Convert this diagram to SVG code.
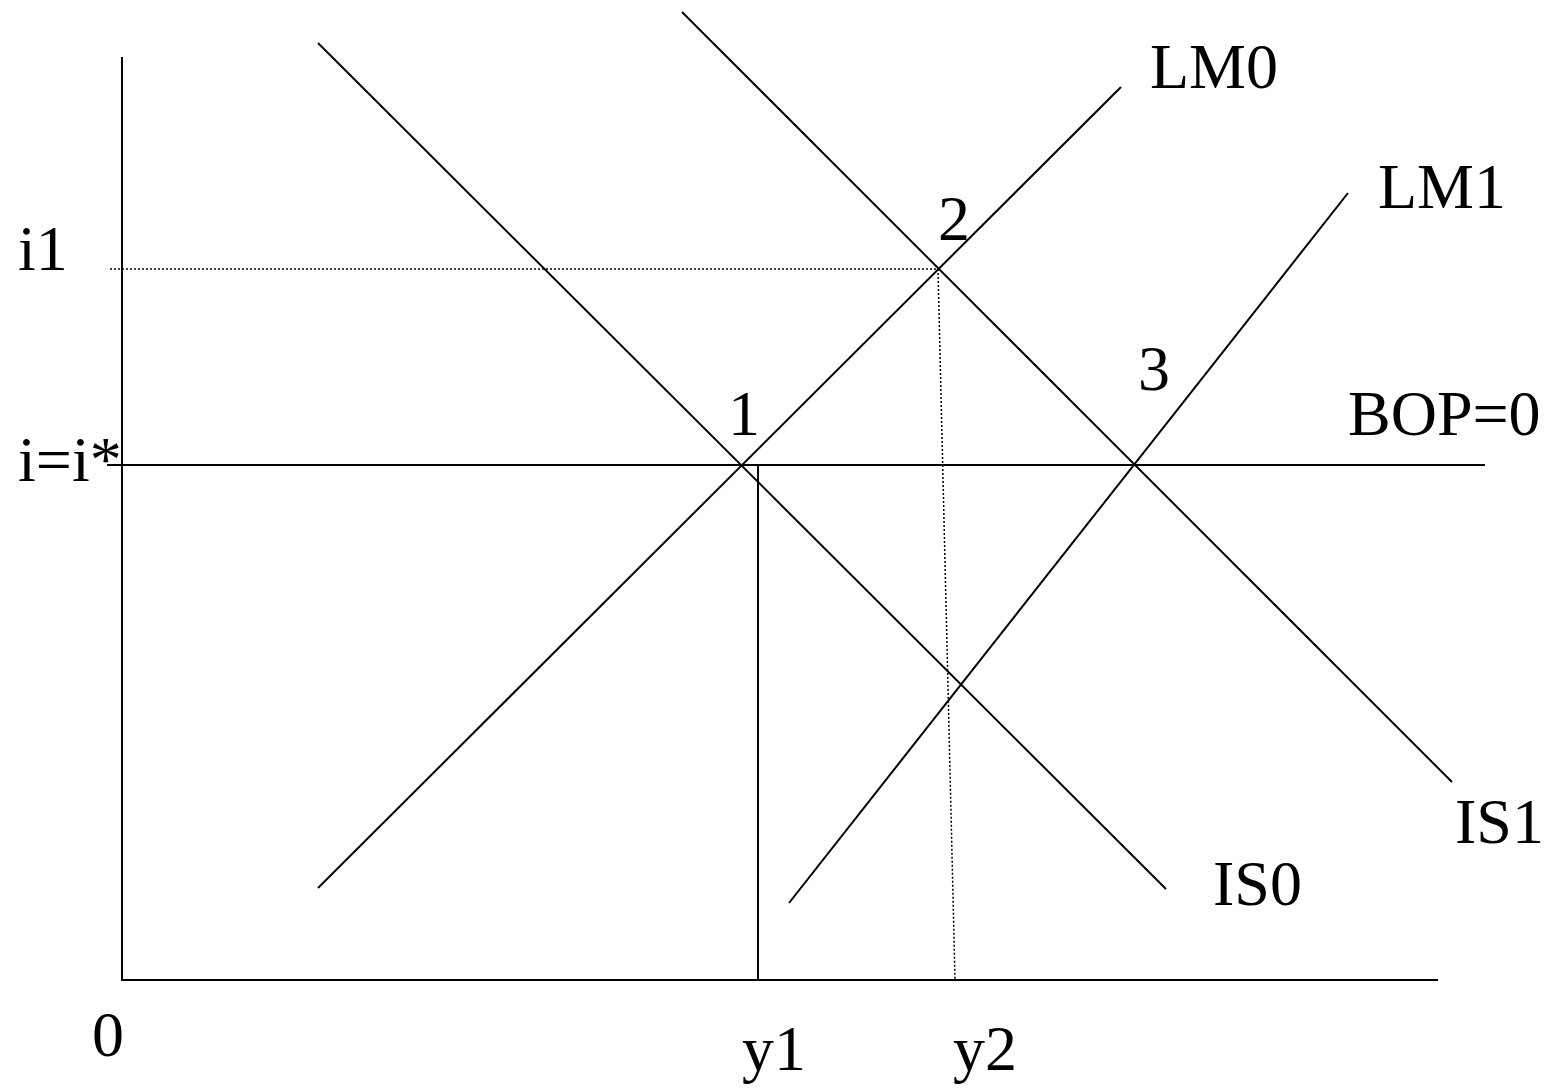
<svg xmlns="http://www.w3.org/2000/svg" width="1553" height="1088" viewBox="0 0 1553 1088">
<style>
.ln{stroke:#000;stroke-width:2;fill:none}
.dot{stroke:#000;stroke-width:1.5;fill:none;stroke-dasharray:2 2}
text{font-family:"Liberation Serif","Times New Roman",serif;font-size:64px;fill:#000}
</style>
<rect width="1553" height="1088" fill="#fff"/>
<g id="axes">
<line class="ln" x1="122" y1="57" x2="122" y2="981"/>
<line class="ln" x1="121" y1="980" x2="1438" y2="980"/>
</g>
<g id="connectors">
<line id="bop" class="ln" x1="107" y1="465" x2="1485" y2="465"/>
<line id="is0" class="ln" x1="318" y1="43" x2="1166" y2="889"/>
<line id="is1" class="ln" x1="682" y1="12" x2="1452" y2="782"/>
<line id="lm0" class="ln" x1="318" y1="888" x2="1121" y2="87"/>
<line id="lm1" class="ln" x1="789" y1="903" x2="1348" y2="193"/>
<line id="y1line" class="ln" x1="758" y1="466" x2="758" y2="980"/>
<line id="i1line" class="dot" x1="110" y1="269" x2="938" y2="269"/>
<line id="y2line" class="dot" x1="938" y1="269" x2="955" y2="980"/>
</g>
<g id="labels">
<text x="1150" y="88">LM0</text>
<text x="1378" y="208">LM1</text>
<text x="1348" y="435">BOP=0</text>
<text x="1455" y="843">IS1</text>
<text x="1213" y="905">IS0</text>
<text x="938" y="240">2</text>
<text x="1138" y="390">3</text>
<text x="728" y="435">1</text>
<text x="18" y="270">i1</text>
<text x="18" y="481">i=i*</text>
<text x="92" y="1056">0</text>
<text x="742" y="1070">y1</text>
<text x="953" y="1070">y2</text>
</g>
</svg>
